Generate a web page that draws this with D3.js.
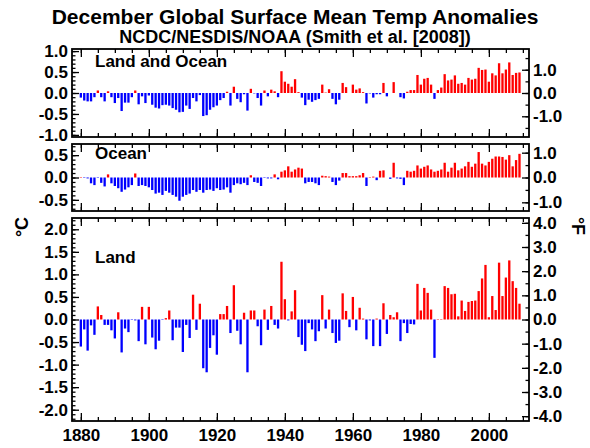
<!DOCTYPE html>
<html>
<head>
<meta charset="utf-8">
<title>December Global Surface Mean Temp Anomalies</title>
<style>
  body { margin: 0; background: #fff; }
  svg text { font-family: "Liberation Sans", Arial, Helvetica, sans-serif; font-weight: bold; fill: #000; }
  .tick text { font-size: 17px; }
  .tick line { stroke: #000; stroke-width: 1.3; }
</style>
</head>
<body>
<svg id="chart"></svg>
<script src="https://d3js.org/d3.v7.min.js"></script>
<script>
// years 1880-2009, anomalies in degC
const years = d3.range(1880, 2010);

const landOcean = [
  -0.11, -0.18, -0.20, -0.20, -0.10, 0.06, -0.10, -0.20, 0.04, -0.10,
  -0.24, -0.12, -0.43, -0.23, -0.23, -0.10, 0.06, -0.27, -0.08, -0.24,
  -0.06, -0.28, -0.35, -0.37, -0.29, -0.28, -0.30, -0.36, -0.40, -0.46,
  -0.45, -0.30, -0.38, -0.12, -0.20, -0.05, -0.55, -0.53, -0.40, -0.34,
  -0.30, -0.17, -0.12, 0.03, -0.30, 0.15, -0.14, -0.22, -0.03, -0.42,
  0.10, -0.01, -0.12, -0.30, 0.06, -0.08, 0.08, 0.04, -0.10, 0.52,
  0.27, 0.22, 0.15, 0.33, 0.02, -0.11, -0.29, -0.16, -0.21, -0.17,
  -0.14, 0.20, 0.01, 0.09, -0.14, -0.27, -0.16, 0.24, 0.14, 0.00,
  0.20, 0.08, 0.11, 0.02, -0.25, -0.01, -0.11, -0.03, -0.03, 0.24,
  -0.08, 0.00, 0.26, 0.00, -0.10, -0.13, 0.03, 0.07, 0.07, 0.43,
  0.20, 0.34, 0.36, 0.20, -0.14, 0.07, 0.13, 0.45, 0.30, 0.32,
  0.42, 0.22, 0.24, 0.20, 0.36, 0.32, 0.34, 0.60, 0.55, 0.56,
  0.27, 0.47, 0.42, 0.71, 0.47, 0.56, 0.73, 0.43, 0.48, 0.49
];

const ocean = [
  0.01, -0.01, -0.02, -0.13, -0.17, -0.01, -0.12, -0.20, 0.07, -0.13,
  -0.19, -0.24, -0.32, -0.27, -0.22, -0.17, 0.09, -0.19, -0.17, -0.19,
  -0.22, -0.28, -0.36, -0.34, -0.39, -0.30, -0.34, -0.39, -0.43, -0.52,
  -0.43, -0.39, -0.36, -0.28, -0.32, -0.28, -0.34, -0.28, -0.27, -0.30,
  -0.24, -0.28, -0.27, -0.22, -0.34, -0.17, -0.13, -0.15, -0.12, -0.17,
  0.05, -0.10, -0.12, -0.19, -0.01, -0.02, -0.02, 0.07, -0.04, 0.13,
  0.16, 0.25, 0.13, 0.18, 0.22, 0.20, -0.13, -0.10, -0.10, -0.13,
  -0.17, 0.04, 0.03, 0.02, -0.10, -0.17, -0.07, 0.10, 0.10, 0.03,
  0.03, 0.03, 0.05, 0.10, -0.19, 0.01, 0.02, -0.06, 0.15, 0.16,
  0.00, -0.03, 0.33, -0.02, -0.03, -0.17, 0.15, 0.13, 0.15, 0.27,
  0.20, 0.24, 0.27, 0.18, 0.13, 0.15, 0.18, 0.33, 0.13, 0.22,
  0.33, 0.16, 0.20, 0.25, 0.35, 0.24, 0.31, 0.57, 0.31, 0.27,
  0.35, 0.42, 0.47, 0.47, 0.46, 0.40, 0.50, 0.25, 0.39, 0.53
];

const land = [
  -0.60, -0.22, -0.69, -0.13, -0.34, 0.29, 0.10, -0.12, -0.12, -0.24,
  -0.42, 0.16, -0.73, -0.20, -0.28, -0.01, -0.02, -0.48, 0.28, -0.55,
  0.28, -0.40, -0.66, -0.47, -0.01, 0.03, 0.20, -0.46, -0.18, -0.18,
  -0.72, -0.12, -0.41, 0.55, -0.23, 0.35, -1.08, -1.17, -0.63, -0.35,
  -0.78, 0.12, 0.12, 0.30, -0.30, 0.76, -0.25, -0.55, 0.15, -1.17,
  0.20, 0.20, -0.15, -0.57, 0.22, -0.23, 0.30, -0.12, -0.20, 1.28,
  0.45, -0.02, 0.18, 0.65, -0.39, -0.56, -0.70, -0.08, -0.22, -0.48,
  -0.26, 0.54, -0.20, 0.22, -0.30, -0.52, -0.47, 0.58, 0.19, -0.17,
  0.50, -0.24, 0.26, 0.02, -0.44, -0.02, -0.59, 0.02, -0.59, 0.36,
  -0.32, 0.10, 0.05, 0.16, -0.48, -0.08, -0.30, -0.10, -0.11, 0.79,
  0.20, 0.70, 0.59, 0.22, -0.85, 0.01, 0.01, 0.74, 0.70, 0.56,
  0.57, 0.07, 0.42, 0.19, 0.39, 0.41, 0.42, 0.63, 0.91, 1.21,
  0.05, 0.52, 0.21, 1.26, 0.52, 0.93, 1.31, 0.85, 0.70, 0.35
];

const yearTicks = [1880, 1900, 1920, 1940, 1960, 1980, 2000];

const width = 590, height = 448;
const left = 72, right = 529;

const svg = d3.select("#chart").attr("width", width).attr("height", height);

const x = d3.scaleLinear().domain([1877.4, 2011.8]).range([left, right]);
const barW = x(1880.68) - x(1880);

const fmt = v => d3.format(".1f")(v).replace("\u2212", "-");

// ticks at multiples of step inside [-r, r]
function steps(r, step) {
  const n = Math.floor(r / step + 1e-6);
  return d3.range(-n, n + 1).map(i => +(i * step).toFixed(2));
}

// r: degC half range (left axis), fr: degF half range (right axis)
const panels = [
  { name: "Land and Ocean", values: landOcean, top: 49, bottom: 137, r: 1.05, fr: 1.89, labelY: 67 },
  { name: "Ocean", values: ocean, top: 144, bottom: 211, r: 0.75, fr: 1.35, labelY: 159 },
  { name: "Land", values: land, top: 218, bottom: 421, r: 2.25, fr: 4.2, labelY: 263 }
];

panels.forEach((p, pi) => {
  const y = d3.scaleLinear().domain([-p.r, p.r]).range([p.bottom, p.top]);
  const yF = d3.scaleLinear().domain([-p.fr, p.fr]).range([p.bottom, p.top]);
  const g = svg.append("g");

  // bars
  g.selectAll("rect.bar")
    .data(years)
    .enter().append("rect")
    .attr("class", "bar")
    .attr("x", d => x(d) - barW / 2)
    .attr("width", barW)
    .attr("y", (d, i) => Math.min(y(p.values[i]), y(0)))
    .attr("height", (d, i) => Math.abs(y(p.values[i]) - y(0)))
    .attr("fill", (d, i) => p.values[i] >= 0 ? "#ff0000" : "#0000ff");

  // left axis (degC), ticks inward
  g.append("g").attr("transform", `translate(${left},0)`)
    .call(d3.axisLeft(y).tickValues(steps(p.r, 0.1)).tickSize(-3.5).tickFormat(""))
    .call(a => a.select(".domain").remove());
  g.append("g").attr("transform", `translate(${left},0)`)
    .call(d3.axisLeft(y).tickValues(steps(p.r, 0.5)).tickSize(-7).tickPadding(4).tickFormat(fmt))
    .call(a => a.select(".domain").remove());

  // right axis (degF)
  g.append("g").attr("transform", `translate(${right},0)`)
    .call(d3.axisRight(yF).tickValues(steps(p.fr, 0.5)).tickSize(-3.5).tickFormat(""))
    .call(a => a.select(".domain").remove());
  g.append("g").attr("transform", `translate(${right},0)`)
    .call(d3.axisRight(yF).tickValues(steps(p.fr, 1)).tickSize(-7).tickPadding(4).tickFormat(fmt))
    .call(a => a.select(".domain").remove());

  // year ticks on top and bottom edges
  const minor = d3.range(1880, 2011, 5);
  [["top", d3.axisTop, p.top], ["bottom", d3.axisBottom, p.bottom]].forEach(([side, ax, yy]) => {
    g.append("g").attr("transform", `translate(0,${yy})`)
      .call(ax(x).tickValues(minor).tickSize(-4).tickFormat(""))
      .call(a => a.select(".domain").remove());
    const isLabelled = side === "bottom" && pi === panels.length - 1;
    g.append("g").attr("transform", `translate(0,${yy})`)
      .call(ax(x).tickValues(yearTicks).tickSize(-8).tickPadding(8)
        .tickFormat(isLabelled ? d3.format("d") : ""))
      .call(a => a.select(".domain").remove());
  });

  // frame
  g.append("rect")
    .attr("x", left).attr("y", p.top)
    .attr("width", right - left).attr("height", p.bottom - p.top)
    .attr("fill", "none").attr("stroke", "#000").attr("stroke-width", 1.8);

  g.append("text")
    .attr("x", 95).attr("y", p.labelY)
    .attr("font-size", 17)
    .text(p.name);
});

svg.selectAll(".tick text").style("font-size", "17px");

// titles
svg.append("text").attr("x", 295).attr("y", 24)
  .attr("text-anchor", "middle").attr("font-size", 21)
  .text("December Global Surface Mean Temp Anomalies");
svg.append("text").attr("x", 295).attr("y", 43)
  .attr("text-anchor", "middle").attr("font-size", 18)
  .text("NCDC/NESDIS/NOAA (Smith et al. [2008])");

// unit labels
svg.append("text")
  .attr("transform", "translate(28,227) rotate(-90)")
  .attr("text-anchor", "middle").attr("font-size", 18)
  .text("\u00B0C");
svg.append("text")
  .attr("transform", "translate(572,226) rotate(90)")
  .attr("text-anchor", "middle").attr("font-size", 18)
  .text("\u00B0F");
</script>
</body>
</html>
